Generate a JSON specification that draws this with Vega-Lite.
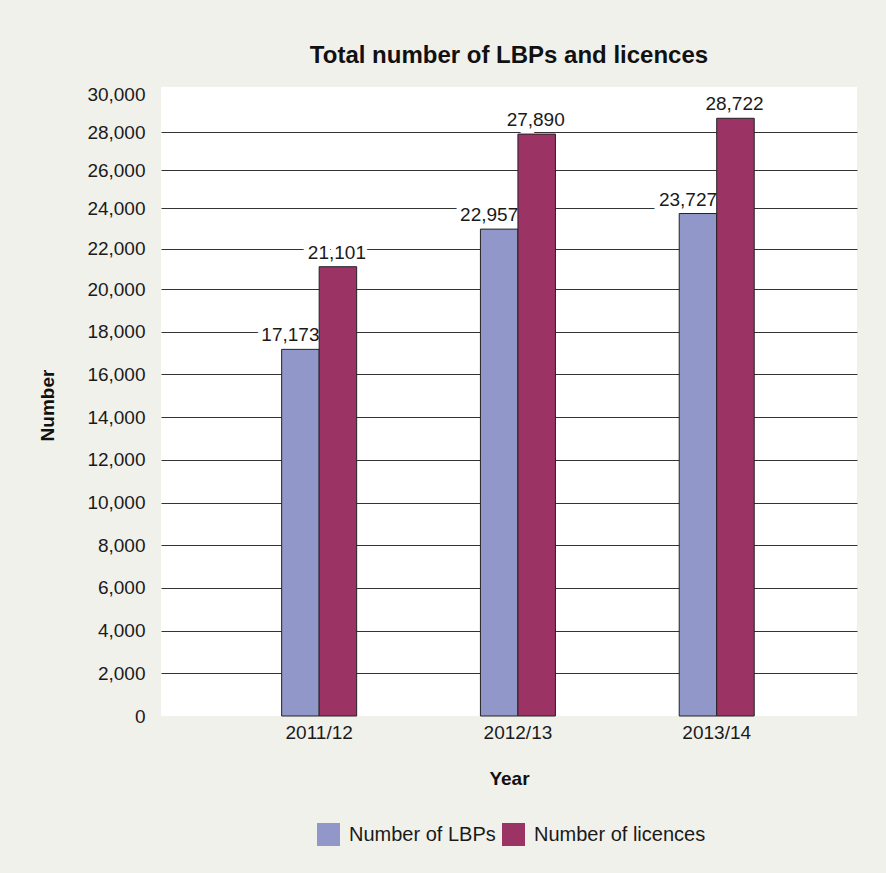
{
  "$schema": "https://vega.github.io/schema/vega-lite/v6.json",
  "width": 696,
  "height": 629,
  "autosize": {"type": "none"},
  "padding": {"left": 161, "top": 87, "right": 29, "bottom": 157},
  "background": "#f1f1ec",
  "title": {
    "text": "Total number of LBPs and licences",
    "fontSize": 24,
    "fontWeight": "bold",
    "anchor": "middle",
    "offset": 17,
    "color": "#111111"
  },
  "data": {
    "values": [
      {"year": "2011/12", "series": "Number of LBPs", "value": 17173},
      {"year": "2011/12", "series": "Number of licences", "value": 21101},
      {"year": "2012/13", "series": "Number of LBPs", "value": 22957},
      {"year": "2012/13", "series": "Number of licences", "value": 27890},
      {"year": "2013/14", "series": "Number of LBPs", "value": 23727},
      {"year": "2013/14", "series": "Number of licences", "value": 28722}
    ]
  },
  "encoding": {
    "x": {
      "field": "year",
      "type": "nominal",
      "scale": {"type": "band", "paddingInner": 0.6226, "paddingOuter": 0.562, "align": 0.54},
      "axis": {
        "title": "Year",
        "labelAngle": 0,
        "domain": false,
        "ticks": false,
        "tickSize": 0,
        "labelPadding": 7,
        "labelFontSize": 19,
        "labelColor": "#1a1a1a",
        "titleFontSize": 19,
        "titleFontWeight": "bold",
        "titleColor": "#111111",
        "titlePadding": 27
      }
    },
    "xOffset": {
      "field": "series",
      "type": "nominal",
      "sort": ["Number of LBPs", "Number of licences"],
      "scale": {"paddingInner": 0, "paddingOuter": 0}
    },
    "y": {
      "field": "value",
      "type": "quantitative",
      "scale": {
        "domain": [0, 20000, 24000, 28000, 30000],
        "range": [629, 202, 121, 45, 7],
        "nice": false
      },
      "axis": {
        "title": "Number",
        "values": [0, 2000, 4000, 6000, 8000, 10000, 12000, 14000, 16000, 18000, 20000, 22000, 24000, 26000, 28000, 30000],
        "format": ",d",
        "domain": false,
        "ticks": false,
        "tickSize": 0,
        "labelPadding": 16,
        "labelFontSize": 19,
        "labelColor": "#1a1a1a",
        "grid": true,
        "gridColor": "#333333",
        "gridWidth": 1,
        "gridOpacity": {"condition": {"test": "datum.value == 0 || datum.value == 30000", "value": 0}, "value": 1},
        "titleFontSize": 19,
        "titleFontWeight": "bold",
        "titleColor": "#111111",
        "titlePadding": 29
      }
    }
  },
  "layer": [
    {
      "transform": [{"filter": "datum.series == 'Number of LBPs'"}],
      "mark": {"type": "text", "fontSize": 19, "baseline": "alphabetic", "dy": -8, "dx": -10, "stroke": "white", "strokeWidth": 10, "strokeJoin": "miter", "fill": "white"},
      "encoding": {"text": {"field": "value", "type": "quantitative", "format": ","}}
    },
    {
      "transform": [{"filter": "datum.series == 'Number of licences'"}],
      "mark": {"type": "text", "fontSize": 19, "baseline": "alphabetic", "dy": -8, "dx": -1, "stroke": "white", "strokeWidth": 10, "strokeJoin": "miter", "fill": "white"},
      "encoding": {"text": {"field": "value", "type": "quantitative", "format": ","}}
    },
    {
      "mark": {"type": "bar", "stroke": "#222222", "strokeWidth": 1},
      "encoding": {
        "color": {
          "field": "series",
          "type": "nominal",
          "scale": {"domain": ["Number of LBPs", "Number of licences"], "range": ["#9297c9", "#9b3464"]},
          "legend": {
            "title": null,
            "orient": "none",
            "legendX": 156,
            "legendY": 736,
            "direction": "horizontal",
            "symbolType": "square",
            "symbolSize": 529,
            "symbolStrokeWidth": 0,
            "labelFontSize": 20,
            "labelColor": "#1a1a1a",
            "labelOffset": 9,
            "labelLimit": 0,
            "columnPadding": 6,
            "padding": 0
          }
        }
      }
    },
    {
      "transform": [{"filter": "datum.series == 'Number of LBPs'"}],
      "mark": {"type": "text", "fontSize": 19, "baseline": "alphabetic", "dy": -8, "dx": -10, "color": "#1a1a1a"},
      "encoding": {"text": {"field": "value", "type": "quantitative", "format": ","}}
    },
    {
      "transform": [{"filter": "datum.series == 'Number of licences'"}],
      "mark": {"type": "text", "fontSize": 19, "baseline": "alphabetic", "dy": -8, "dx": -1, "color": "#1a1a1a"},
      "encoding": {"text": {"field": "value", "type": "quantitative", "format": ","}}
    }
  ],
  "config": {
    "font": "Liberation Sans",
    "view": {"fill": "white", "stroke": null}
  }
}
